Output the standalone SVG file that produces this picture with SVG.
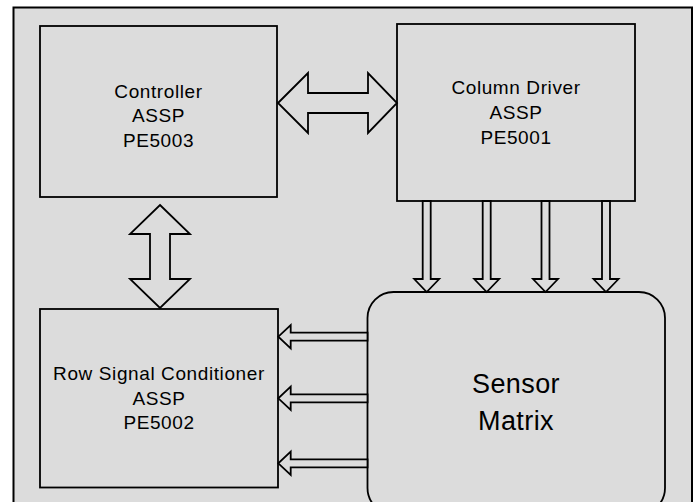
<svg xmlns="http://www.w3.org/2000/svg" width="696" height="502" viewBox="0 0 696 502">
<style>
.box{fill:#dcdcdc;stroke:#000;stroke-width:1.8}
.frame{fill:#dcdcdc;stroke:#000;stroke-width:2}
.arr{fill:#dcdcdc;stroke:#000;stroke-width:1.8;stroke-linejoin:miter}
.t{font-family:"Liberation Sans",Arial,sans-serif;font-size:19px;letter-spacing:0.6px;text-anchor:middle;fill:#000}
.big{font-family:"Liberation Sans",Arial,sans-serif;font-size:27px;letter-spacing:0.4px;text-anchor:middle;fill:#000}
</style>
<rect x="0" y="0" width="696" height="502" fill="#fff"/>
<rect class="frame" x="13.5" y="7.5" width="678.5" height="510"/>
<g id="controller">
<rect class="box" x="40" y="26" width="237" height="171"/>
<text class="t" x="158.5" y="97.5">Controller</text>
<text class="t" x="158.5" y="122">ASSP</text>
<text class="t" x="158.5" y="146.5">PE5003</text>
</g>
<g id="column-driver">
<rect class="box" x="397" y="24" width="238" height="177"/>
<text class="t" x="516" y="94.3">Column Driver</text>
<text class="t" x="516" y="119">ASSP</text>
<text class="t" x="516" y="143.5">PE5001</text>
</g>
<g id="row-signal-conditioner">
<rect class="box" x="40" y="309" width="238" height="178.5"/>
<text class="t" x="159" y="380">Row Signal Conditioner</text>
<text class="t" x="159" y="404.5">ASSP</text>
<text class="t" x="159" y="429">PE5002</text>
</g>
<g id="sensor-matrix">
<rect class="box" x="367.5" y="292" width="297.5" height="222" rx="26" ry="26"/>
<text class="big" x="516" y="393.3">Sensor</text>
<text class="big" x="516" y="430">Matrix</text>
</g>
<g id="connectors">
<polygon class="arr" points="278,103 308,73 308,93 368,93 368,73 397,103 368,133 368,113 308,113 308,133"/>
<polygon class="arr" points="160,205 190,234 170,234 170,279 190,279 160,308 130,279 150,279 150,234 130,234"/>
<polygon class="arr" points="422.7,201 430.7,201 430.7,279 439.2,279 426.7,292 414.2,279 422.7,279"/>
<polygon class="arr" points="482.7,201 490.7,201 490.7,279 499.2,279 486.7,292 474.2,279 482.7,279"/>
<polygon class="arr" points="541.5,201 549.5,201 549.5,279 558,279 545.5,292 533,279 541.5,279"/>
<polygon class="arr" points="602,201 610,201 610,279 618.5,279 606,292 593.5,279 602,279"/>
<polygon class="arr" points="367.5,332.7 290.7,332.7 290.7,325 278.3,336.7 290.7,348.4 290.7,340.7 367.5,340.7"/>
<polygon class="arr" points="367.5,394.3 290.7,394.3 290.7,386.6 278.3,398.3 290.7,410 290.7,402.3 367.5,402.3"/>
<polygon class="arr" points="367.5,459.3 290.7,459.3 290.7,451.6 278.3,463.3 290.7,475 290.7,467.3 367.5,467.3"/>
</g>
</svg>
